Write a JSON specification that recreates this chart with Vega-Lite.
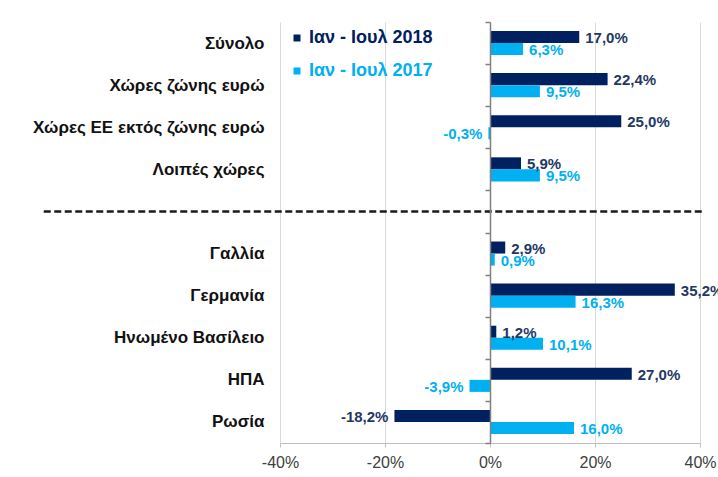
{
  "$schema": "https://vega.github.io/schema/vega-lite/v6.json",
  "width": 420,
  "height": 421,
  "autosize": {"type": "none"},
  "padding": {"left": 280, "top": 22, "right": 18, "bottom": 34},
  "background": "white",
  "config": {
    "font": "Liberation Sans",
    "view": {"stroke": null},
    "locale": {
      "number": {"decimal": ",", "thousands": ".", "grouping": [3], "currency": ["", " €"], "minus": "-"}
    },
    "legend": {
      "orient": "none",
      "legendX": 8,
      "legendY": 7,
      "padding": 0,
      "symbolType": "square",
      "symbolSize": 49,
      "symbolStrokeWidth": 0,
      "labelFontSize": 18,
      "labelFontWeight": "bold",
      "labelOffset": 3,
      "rowPadding": 15,
      "labelLimit": 300
    }
  },
  "datasets": {
    "bars": [
      {"cat": "Σύνολο", "series": "Ιαν - Ιουλ 2018", "v": 0.170},
      {"cat": "Σύνολο", "series": "Ιαν - Ιουλ 2017", "v": 0.063},
      {"cat": "Χώρες ζώνης ευρώ", "series": "Ιαν - Ιουλ 2018", "v": 0.224},
      {"cat": "Χώρες ζώνης ευρώ", "series": "Ιαν - Ιουλ 2017", "v": 0.095},
      {"cat": "Χώρες ΕΕ εκτός ζώνης ευρώ", "series": "Ιαν - Ιουλ 2018", "v": 0.250},
      {"cat": "Χώρες ΕΕ εκτός ζώνης ευρώ", "series": "Ιαν - Ιουλ 2017", "v": -0.003},
      {"cat": "Λοιπές χώρες", "series": "Ιαν - Ιουλ 2018", "v": 0.059},
      {"cat": "Λοιπές χώρες", "series": "Ιαν - Ιουλ 2017", "v": 0.095},
      {"cat": "Γαλλία", "series": "Ιαν - Ιουλ 2018", "v": 0.029},
      {"cat": "Γαλλία", "series": "Ιαν - Ιουλ 2017", "v": 0.009},
      {"cat": "Γερμανία", "series": "Ιαν - Ιουλ 2018", "v": 0.352},
      {"cat": "Γερμανία", "series": "Ιαν - Ιουλ 2017", "v": 0.163},
      {"cat": "Ηνωμένο Βασίλειο", "series": "Ιαν - Ιουλ 2018", "v": 0.012},
      {"cat": "Ηνωμένο Βασίλειο", "series": "Ιαν - Ιουλ 2017", "v": 0.101},
      {"cat": "ΗΠΑ", "series": "Ιαν - Ιουλ 2018", "v": 0.270},
      {"cat": "ΗΠΑ", "series": "Ιαν - Ιουλ 2017", "v": -0.039},
      {"cat": "Ρωσία", "series": "Ιαν - Ιουλ 2018", "v": -0.182},
      {"cat": "Ρωσία", "series": "Ιαν - Ιουλ 2017", "v": 0.160}
    ],
    "sep": [{"cat": " ", "x1": -0.85, "x2": 0.41}]
  },
  "encoding": {
    "y": {
      "field": "cat",
      "type": "nominal",
      "scale": {
        "domain": ["Σύνολο", "Χώρες ζώνης ευρώ", "Χώρες ΕΕ εκτός ζώνης ευρώ", "Λοιπές χώρες", " ", "Γαλλία", "Γερμανία", "Ηνωμένο Βασίλειο", "ΗΠΑ", "Ρωσία"],
        "paddingInner": 0,
        "paddingOuter": 0
      },
      "axis": {
        "title": null,
        "orient": "left",
        "offset": -210,
        "domain": true,
        "domainColor": "#808080",
        "domainWidth": 1.5,
        "ticks": true,
        "tickBand": "extent",
        "tickSize": 5,
        "tickColor": "#808080",
        "tickWidth": 1.5,
        "labelPadding": 221,
        "labelFontSize": 17,
        "labelFontWeight": "bold",
        "labelColor": "#111111",
        "labelLimit": 300,
        "grid": false,
        "zindex": 1
      }
    }
  },
  "layer": [
    {
      "data": {"name": "bars"},
      "mark": {"type": "bar"},
      "encoding": {
        "x": {
          "field": "v",
          "type": "quantitative",
          "scale": {"domain": [-0.4, 0.4], "nice": false, "zero": false},
          "axis": {
            "title": null,
            "values": [-0.4, -0.2, 0, 0.2, 0.4],
            "format": ".0%",
            "grid": true,
            "gridColor": "#d9d9d9",
            "domainColor": "#bfbfbf",
            "tickColor": "#bfbfbf",
            "tickSize": 4,
            "labelFontSize": 16,
            "labelColor": "#404040",
            "labelPadding": 7,
            "labelFlush": false
          }
        },
        "yOffset": {
          "field": "series",
          "type": "nominal",
          "scale": {"domain": ["Ιαν - Ιουλ 2018", "Ιαν - Ιουλ 2017"], "paddingInner": 0, "paddingOuter": 0.75}
        },
        "color": {
          "field": "series",
          "type": "nominal",
          "scale": {"domain": ["Ιαν - Ιουλ 2018", "Ιαν - Ιουλ 2017"], "range": ["#002060", "#00b0f0"]},
          "legend": {
            "title": null,
            "encode": {"labels": {"update": {"fill": {"signal": "scale('color', datum.value)"}}}}
          }
        }
      }
    },
    {
      "data": {"name": "bars"},
      "transform": [{"filter": "datum.v >= 0"}],
      "mark": {"type": "text", "align": "left", "baseline": "middle", "dx": 6, "dy": 1, "fontSize": 15, "fontWeight": "bold"},
      "encoding": {
        "x": {"field": "v", "type": "quantitative"},
        "yOffset": {"field": "series", "type": "nominal"},
        "text": {"field": "v", "type": "quantitative", "format": ".1%"},
        "color": {"condition": {"test": "datum.series == 'Ιαν - Ιουλ 2018'", "value": "#1f3864"}, "value": "#00b0f0"}
      }
    },
    {
      "data": {"name": "bars"},
      "transform": [{"filter": "datum.v < 0"}],
      "mark": {"type": "text", "align": "right", "baseline": "middle", "dx": -6, "dy": 1, "fontSize": 15, "fontWeight": "bold"},
      "encoding": {
        "x": {"field": "v", "type": "quantitative"},
        "yOffset": {"field": "series", "type": "nominal"},
        "text": {"field": "v", "type": "quantitative", "format": ".1%"},
        "color": {"condition": {"test": "datum.series == 'Ιαν - Ιουλ 2018'", "value": "#1f3864"}, "value": "#00b0f0"}
      }
    },
    {
      "data": {"name": "sep"},
      "mark": {"type": "rule", "strokeDash": [7, 3.5], "strokeWidth": 2.5, "color": "#1a1a1a"},
      "encoding": {
        "x": {"field": "x1", "type": "quantitative"},
        "x2": {"field": "x2"}
      }
    }
  ]
}
